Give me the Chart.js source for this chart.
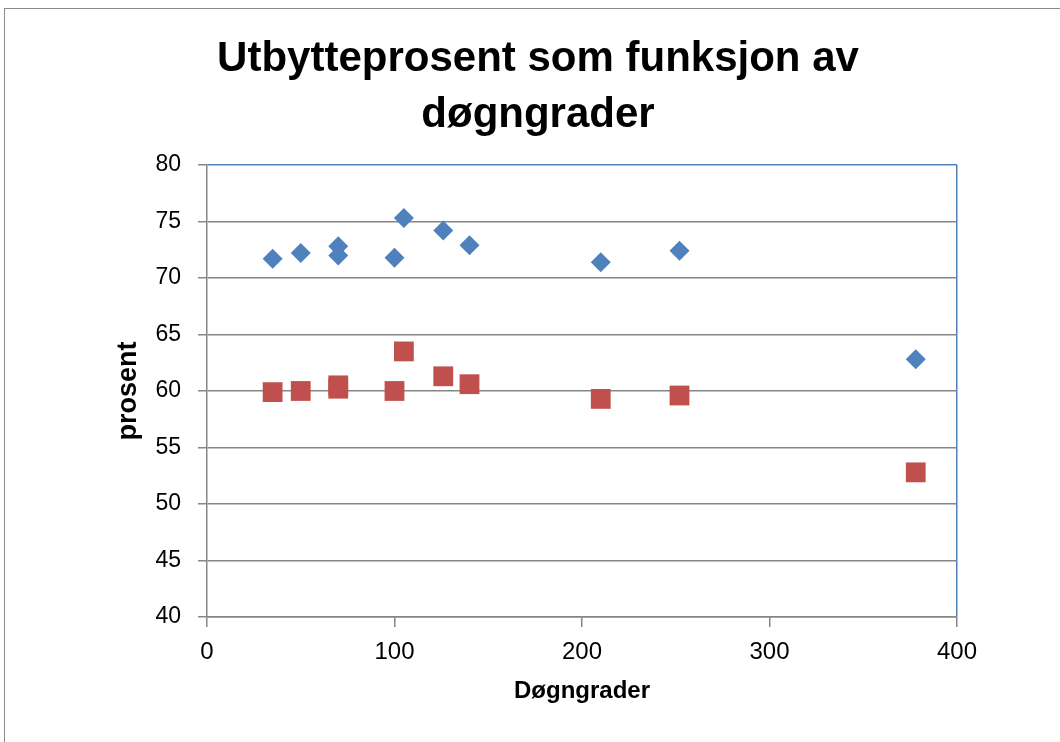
<!DOCTYPE html>
<html>
<head>
<meta charset="utf-8">
<script src="https://cdn.jsdelivr.net/npm/chart.js@4/dist/chart.umd.min.js"></script>
<style>
  html, body { margin: 0; padding: 0; background: #fff; }
  #wrap { position: relative; width: 1060px; height: 742px; overflow: hidden; }
  #frame { position: absolute; left: 4px; top: 8px; width: 1100px; height: 800px; border: 1.5px solid #8a8a8a; box-sizing: border-box; }
  canvas { position: absolute; left: 0; top: 0; }
</style>
</head>
<body>
<div id="wrap">
  <div id="frame"></div>
  <canvas id="c" width="1060" height="742"></canvas>
</div>
<script>
// ---- data ----
const titleLines = ['Utbytteprosent som funksjon av', 'døgngrader'];
const xAxisTitle = 'Døgngrader';
const yAxisTitle = 'prosent';
const degreeDays = [35, 50, 70, 70, 100, 105, 126, 140, 210, 252, 378];
const seriesBlue = [71.7, 72.2, 72.8, 72.0, 71.8, 75.3, 74.2, 72.9, 71.4, 72.4, 62.8];
const seriesRed  = [59.9, 60.0, 60.5, 60.2, 60.0, 63.5, 61.3, 60.6, 59.3, 59.6, 52.8];
const xTicks = [0, 100, 200, 300, 400];
const yTicks = [40, 45, 50, 55, 60, 65, 70, 75, 80];

const FONT = "'Liberation Sans', Arial, sans-serif";
const GRID = '#868686';
const BLUE_BORDER = '#4F81BD';

const toPoints = ys => degreeDays.map((x, i) => ({ x: x, y: ys[i] }));

new Chart(document.getElementById('c'), {
  type: 'scatter',
  data: {
    datasets: [
      {
        label: 'Serie 1',
        data: toPoints(seriesBlue),
        pointStyle: 'rectRot',
        pointRadius: 10,
        pointHoverRadius: 10,
        pointBorderWidth: 0,
        backgroundColor: '#4F81BD',
        borderColor: '#4F81BD'
      },
      {
        label: 'Serie 2',
        data: toPoints(seriesRed),
        pointStyle: 'rect',
        pointRadius: 14,
        pointHoverRadius: 14,
        pointBorderWidth: 0,
        backgroundColor: '#C0504D',
        borderColor: '#C0504D'
      }
    ]
  },
  options: {
    responsive: false,
    animation: false,
    events: [],
    layout: { padding: { left: 16, right: 0, top: 0, bottom: 0 } },
    plugins: {
      legend: { display: false },
      tooltip: { enabled: false },
      title: {
        display: true,
        text: titleLines,
        color: '#000',
        font: { family: FONT, size: 42, weight: 'bold', lineHeight: 1.333 },
        padding: { top: 31, bottom: 22 }
      }
    },
    scales: {
      x: {
        type: 'linear',
        min: xTicks[0],
        max: xTicks[xTicks.length - 1],
        afterBuildTicks: s => { s.ticks = xTicks.map(v => ({ value: v })); },
        afterFit: s => { s.height = 125; },
        ticks: {
          color: '#000',
          font: { family: FONT, size: 24 },
          padding: 11,
          maxRotation: 0
        },
        grid: {
          drawOnChartArea: true,
          color: c => (c.tick && c.tick.value === 400) ? BLUE_BORDER : 'rgba(0,0,0,0)',
          lineWidth: 1.5,
          tickColor: GRID,
          tickLength: 10
        },
        border: { display: true, color: GRID, width: 1.5 },
        title: {
          display: true,
          text: xAxisTitle,
          color: '#000',
          font: { family: FONT, size: 24, weight: 'bold', lineHeight: 1.2 },
          padding: { top: 0, bottom: 36 }
        }
      },
      y: {
        type: 'linear',
        position: 'left',
        min: yTicks[0],
        max: yTicks[yTicks.length - 1],
        afterBuildTicks: s => { s.ticks = yTicks.map(v => ({ value: v })); },
        afterFit: s => { s.width = 191; },
        ticks: {
          color: '#000',
          font: { family: FONT, size: 23 },
          padding: 17
        },
        grid: {
          color: c => (c.tick && c.tick.value === 80) ? BLUE_BORDER : GRID,
          lineWidth: 1.5,
          tickColor: GRID,
          tickLength: 9
        },
        border: { display: true, color: GRID, width: 1.5 },
        title: {
          display: true,
          text: yAxisTitle,
          color: '#000',
          font: { family: FONT, size: 27, weight: 'bold', lineHeight: 1.2 },
          padding: { top: 96, bottom: 0 }
        }
      },
      yRight: {
        type: 'linear',
        position: 'right',
        display: true,
        afterFit: s => { s.width = 103; },
        ticks: { display: false },
        grid: { display: false, drawTicks: false },
        border: { display: false }
      }
    }
  }
});
</script>
</body>
</html>
